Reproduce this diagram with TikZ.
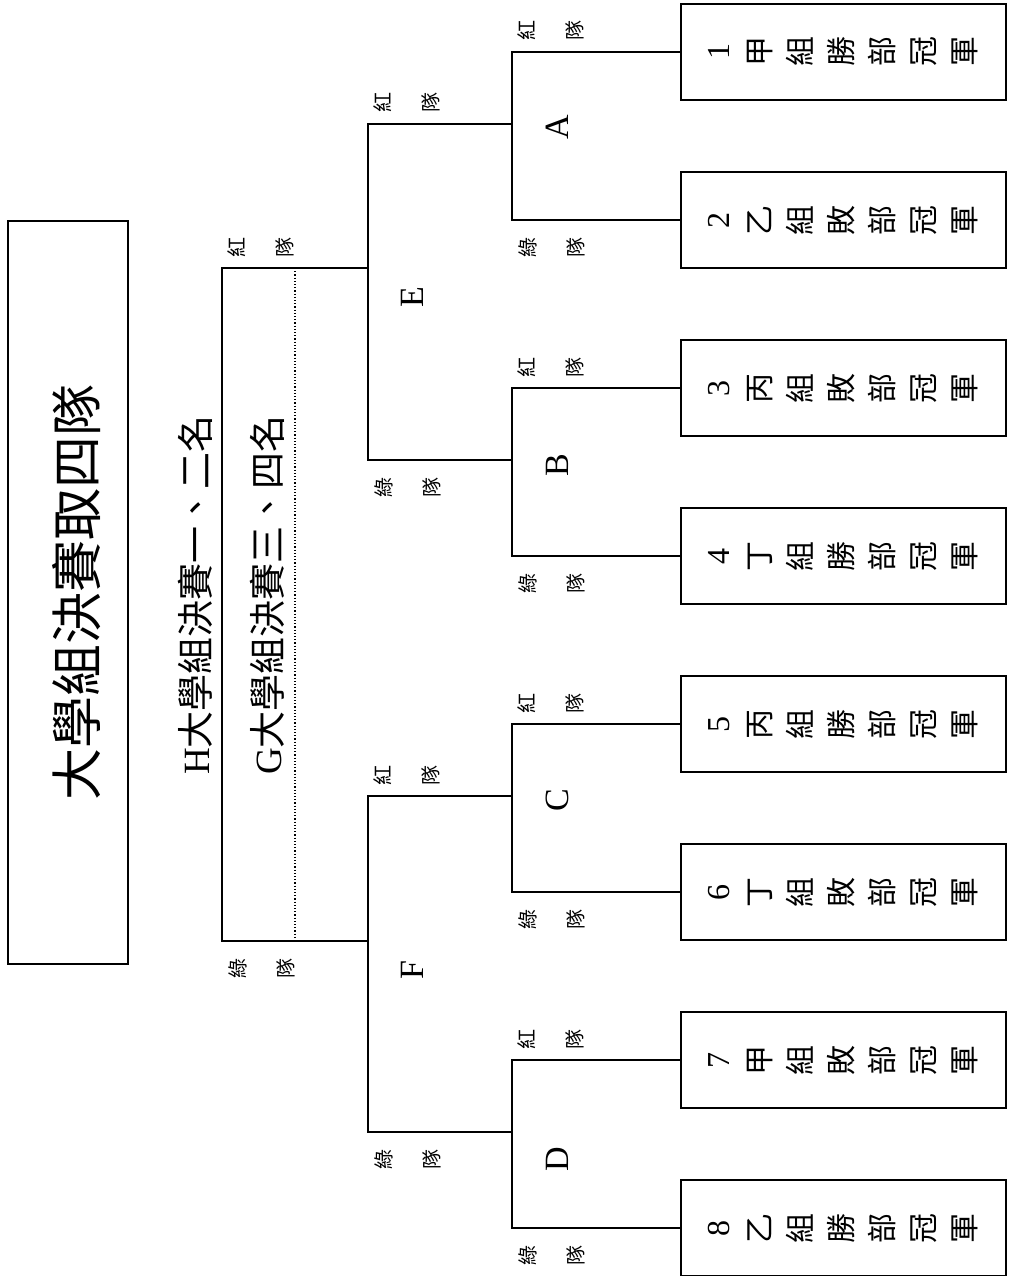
\documentclass[tikz,border=0pt]{standalone}
\usepackage{fontspec}
\setmainfont{Liberation Serif}
\newfontfamily\cjk{Noto Sans CJK TC}
\usetikzlibrary{calc}

\begin{document}
\begin{tikzpicture}[x=1pt,y=-1pt]
	\tikzset{
		line/.style={line width=1.9pt},
		teambox/.style={draw,line width=1.9pt,minimum width=325pt,minimum height=96pt,inner sep=0pt},
		teamtext/.style={rotate=90,align=center,inner sep=0pt,font=\cjk\fontsize{30}{41}\selectfont},
		side/.style={rotate=90,align=center,inner sep=0pt,font=\cjk\fontsize{20}{48}\selectfont},
		letter/.style={rotate=90,inner sep=0pt,font=\fontsize{34}{40}\selectfont},
		heading/.style={rotate=90,inner sep=0pt,font=\cjk\fontsize{37}{44}\selectfont}
	}
	\useasboundingbox (0,0) rectangle (1009,1276);

	\node[draw,line width=1.9pt,minimum width=120pt,minimum height=743pt] (titlebox) at (68,592.5) {};
	\node[rotate=90,font=\cjk\fontsize{52}{60}\selectfont] (title) at (77,592) {大學組決賽取四隊};

	\foreach \n/\grp/\res [count=\i from 0] in {1/甲/勝,2/乙/敗,3/丙/敗,4/丁/勝,5/丙/勝,6/丁/敗,7/甲/敗,8/乙/勝} {
		\node[teambox] (t\n) at (843.5,52+168*\i) {};
		\node[teamtext] (n\n) at (t\n) {{\rmfamily\fontsize{32}{41}\selectfont\n}\\\grp\\組\\\res\\部\\冠\\軍};
	}

	\coordinate (jA) at (512,124);
	\coordinate (jB) at (512,460);
	\coordinate (jC) at (512,796);
	\coordinate (jD) at (512,1132);
	\coordinate (jE) at (368,268);
	\coordinate (jF) at (368,941);
	\coordinate (jH) at (222,604);
	\coordinate (jG) at (295,604);

	\draw[line] (t1.west) -| (jA) |- (t2.west);
	\draw[line] (t3.west) -| (jB) |- (t4.west);
	\draw[line] (t5.west) -| (jC) |- (t6.west);
	\draw[line] (t7.west) -| (jD) |- (t8.west);
	\draw[line] (jA) -| (jE) |- (jB);
	\draw[line] (jC) -| (jF) |- (jD);
	\draw[line] (jE) -| (jH) |- (jF);
	\draw[dotted,line width=1.2pt] (jG |- jE) -- (jG |- jF);

	\newcommand\redteam[1]{\path (#1) ++(39,-21) node[side] {紅\\隊};}
	\newcommand\greenteam[1]{\path (#1) ++(40,27) node[side] {綠\\隊};}
	\redteam{jA |- t1} \greenteam{jA |- t2}
	\redteam{jB |- t3} \greenteam{jB |- t4}
	\redteam{jC |- t5} \greenteam{jC |- t6}
	\redteam{jD |- t7} \greenteam{jD |- t8}
	\redteam{jE |- jA} \greenteam{jE |- jB}
	\redteam{jF |- jC} \greenteam{jF |- jD}
	\redteam{jH |- jE} \greenteam{jH |- jF}

	\node[letter] (lA) at ($(jA)+(45,3)$) {A};
	\node[letter] (lB) at ($(jB)+(45,5)$) {B};
	\node[letter] (lC) at ($(jC)+(45,4)$) {C};
	\node[letter] (lD) at ($(jD)+(45,27)$) {D};
	\node[letter] (lE) at ($(jE)+(44,29)$) {E};
	\node[letter] (lF) at ($(jF)+(44,29)$) {F};

	\node[heading] (first) at (195,595) {{\rmfamily H}大學組決賽一、二名};
	\node[heading] (third) at (267,595) {{\rmfamily G}大學組決賽三、四名};
\end{tikzpicture}
\end{document}
